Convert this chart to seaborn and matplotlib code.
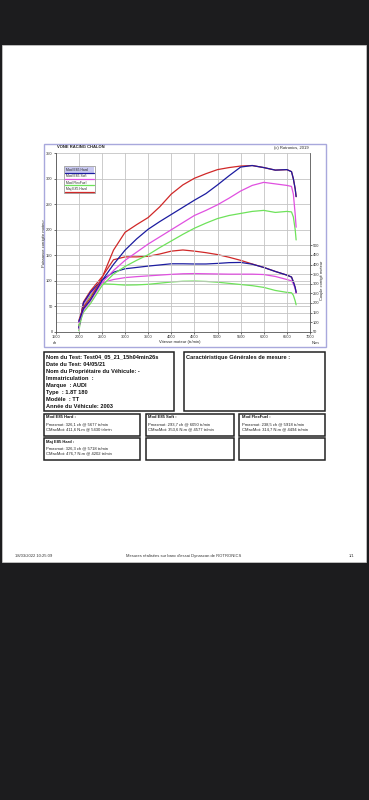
import matplotlib
matplotlib.use("Agg")
import matplotlib.pyplot as plt
import seaborn as sns
import pandas as pd
from matplotlib.patches import Rectangle
from matplotlib.lines import Line2D

# ---------------- data ----------------
rpm = [2000, 2100, 2250, 2500, 2750, 3000, 3250, 3500, 3750, 4000, 4250, 4500,
       4750, 5000, 5250, 5500, 5750, 6000, 6250, 6500, 6600, 6640, 6680, 6700]

series_names = ["Mod E85 Hard", "Mod E85 Soft", "Mod FlexFuel", "Maj E85 Hard"]
series_colors = ["#1c1ca0", "#e050e0", "#6ee25a", "#d02828"]

power_mod_e85_hard = [20, 45, 62, 100, 132, 160, 182, 201, 216, 230, 244, 258,
                      271, 288, 306, 323, 326, 322, 317, 318, 314, 300, 280, 265]
power_mod_e85_soft = [18, 42, 60, 96, 120, 140, 156, 172, 186, 200, 214, 228,
                      238, 249, 262, 276, 287, 293, 290, 287, 285, 270, 230, 205]
power_mod_flexfuel = [12, 38, 55, 90, 113, 128, 140, 151, 165, 178, 191, 203,
                      213, 222, 228, 232, 236, 238, 234, 236, 235, 225, 200, 180]
power_maj_e85_hard = [22, 48, 66, 105, 160, 195, 210, 224, 245, 270, 288, 301,
                      310, 318, 322, 325, 326, 322, 317, 318, 314, 300, 280, 265]

torque_mod_e85_hard = [70, 200, 255, 320, 360, 378, 385, 392, 398, 404, 404, 403,
                       403, 406, 410, 411, 402, 385, 364, 345, 335, 310, 280, 255]
torque_mod_e85_soft = [65, 190, 250, 305, 322, 332, 337, 341, 345, 349, 352, 353,
                       352, 351, 350, 350, 350, 348, 338, 322, 315, 300, 275, 250]
torque_mod_flexfuel = [55, 180, 240, 300, 297, 293, 294, 297, 303, 309, 313, 314,
                       312, 308, 302, 296, 290, 281, 265, 255, 253, 240, 210, 190]
torque_maj_e85_hard = [75, 205, 262, 335, 425, 440, 440, 443, 455, 470, 476, 470,
                       462, 452, 438, 422, 403, 385, 364, 345, 335, 310, 280, 255]

x_ticks = [1500, 2000, 2500, 3000, 3500, 4000, 4500, 5000, 5500, 6000, 6500, 7000]
power_ticks = [0, 50, 100, 150, 200, 250, 300, 350]
torque_ticks = [50, 100, 150, 200, 250, 300, 350, 400, 450, 500]

chart_title = "VONE RACING CHALON"
chart_copyright = "(c) Rotronics, 2019"

info_lines = ["Nom du Test: Test04_05_21_15h04min26s",
              "Date du Test: 04/05/21",
              "Nom du Propriétaire du Véhicule: -",
              "Immatriculation  :",
              "Marque  : AUDI",
              "Type  : 1.8T 180",
              "Modèle  : TT",
              "Année du Véhicule: 2003"]
general_title = "Caractéristique Générales de mesure :"

result_titles = ["Mod E85 Hard :", "Mod E85 Soft :", "Mod FlexFuel :", "Maj E85 Hard :"]
result_pmax = ["Pmaxmot: 326,1 ch @ 5677 tr/min", "Pmaxmot: 293,7 ch @ 6050 tr/min",
               "Pmaxmot: 238,5 ch @ 5918 tr/min", "Pmaxmot: 326,3 ch @ 5718 tr/min"]
result_cmax = ["CMaxMot: 411,6 N.m @ 5430 tr/min", "CMaxMot: 353,6 N.m @ 4577 tr/min",
               "CMaxMot: 314,7 N.m @ 4494 tr/min", "CMaxMot: 476,7 N.m @ 4202 tr/min"]

footer_left = "18/03/2022 10:25:09"
footer_mid = "Mesures réalisées sur banc d'essai Dynascan de ROTRONICS"
footer_right = "1/1"

# ---------------- build tables ----------------
power_vals = [power_mod_e85_hard, power_mod_e85_soft, power_mod_flexfuel, power_maj_e85_hard]
torque_vals = [torque_mod_e85_hard, torque_mod_e85_soft, torque_mod_flexfuel, torque_maj_e85_hard]
rows_p, rows_t = [], []
for name, pv, tv in zip(series_names, power_vals, torque_vals):
    for r, p, t in zip(rpm, pv, tv):
        rows_p.append({"rpm": r, "val": p, "serie": name})
        rows_t.append({"rpm": r, "val": t, "serie": name})
df_p = pd.DataFrame(rows_p)
df_t = pd.DataFrame(rows_t)
palette = dict(zip(series_names, series_colors))

# ---------------- figure ----------------
sns.set_style("white")
plt.rcParams["font.family"] = ["Liberation Sans", "DejaVu Sans"]

W, H = 369, 800
fig = plt.figure(figsize=(W / 100, H / 100), dpi=100, facecolor="#1c1c1e")

def fx(x):
    return x / W

def fy(y):
    return 1 - y / H

def rect(x0, y0, x1, y1, **kw):
    fig.patches.append(Rectangle((fx(x0), fy(y1)), fx(x1) - fx(x0), fy(y0) - fy(y1),
                                 transform=fig.transFigure, **kw))

# page
rect(2, 45, 366, 562, facecolor="white", edgecolor="#d0d0d0", lw=0.5, zorder=0)
# chart frame
rect(43.5, 144, 326, 347.5, facecolor="white", edgecolor="#a8a8dc", lw=1.0, zorder=0.5)

ax_l, ax_r, ax_t, ax_b = 55.7, 310, 153.3, 331.7
ax2 = fig.add_axes([fx(ax_l), fy(ax_b), fx(ax_r) - fx(ax_l), fy(ax_t) - fy(ax_b)])
ax = fig.add_axes([fx(ax_l), fy(ax_b), fx(ax_r) - fx(ax_l), fy(ax_t) - fy(ax_b)], sharex=ax2)
ax.set_zorder(3)
ax.patch.set_visible(False)
ax2.set_zorder(2)

# torque on ax2 (right axis)
sns.lineplot(data=df_t, x="rpm", y="val", hue="serie", palette=palette,
             hue_order=series_names[::-1], ax=ax2, lw=0.9, legend=False)
ax2.set_ylim(50, 980)
ax2.yaxis.tick_right()
ax2.yaxis.set_label_position("right")
ax2.set_yticks(torque_ticks)
ax2.grid(axis="y", color="#c4c4c4", lw=0.6)
ax2.set_axisbelow(True)

# power on ax (left axis)
sns.lineplot(data=df_p, x="rpm", y="val", hue="serie", palette=palette,
             hue_order=series_names[::-1], ax=ax, lw=0.9, legend=False)
ax.set_xlim(1500, 7000)
ax.set_ylim(0, 350)
ax.set_xticks(x_ticks)
ax.set_yticks(power_ticks)
ax.grid(True, color="#c4c4c4", lw=0.6)
ax.set_axisbelow(True)

for a in (ax, ax2):
    a.set_xlabel("")
    a.set_ylabel("")
    for s in a.spines.values():
        s.set_visible(False)
ax.spines["left"].set_visible(True)
ax.spines["bottom"].set_visible(True)
ax.spines["left"].set_color("#555555")
ax.spines["bottom"].set_color("#555555")
ax.spines["left"].set_linewidth(0.6)
ax.spines["bottom"].set_linewidth(0.6)
ax2.spines["right"].set_visible(True)
ax2.spines["right"].set_color("#555555")
ax2.spines["right"].set_linewidth(0.6)

ax.tick_params(axis="y", labelsize=2.9, length=1.6, width=0.5, pad=0.6,
               colors="#333333", left=True)
ax.tick_params(axis="x", labelsize=2.9, length=1.6, width=0.5, pad=1.0,
               colors="#333333", bottom=True)
ax2.tick_params(axis="y", labelsize=2.9, length=1.6, width=0.5, pad=0.6,
                colors="#333333", right=True, left=False, labelleft=False, labelright=True)
ax2.tick_params(axis="x", bottom=False, labelbottom=False)

tk = dict(transform=fig.transFigure, color="#222222")
fig.text(fx(57), fy(147.5), chart_title, fontsize=3.0, fontweight="bold", va="center", ha="left", **tk)
fig.text(fx(309), fy(147.5), chart_copyright, fontsize=3.0, va="center", ha="right", **tk)
fig.text(fx(44.3), fy(243), "Puissance corrigée moteur", fontsize=2.9, rotation=90,
         va="center", ha="center", **tk)
fig.text(fx(322.5), fy(280), "Couple corrigé moteur", fontsize=2.9, rotation=90,
         va="center", ha="center", **tk)
fig.text(fx(55), fy(342.5), "ch", fontsize=3.0, va="center", ha="center", **tk)
fig.text(fx(315), fy(342.5), "N.m", fontsize=3.0, va="center", ha="center", **tk)
fig.text(fx(180), fy(342.5), "Vitesse moteur (tr/min)", fontsize=3.0, va="center", ha="center", **tk)

# legend box
rect(63.5, 166, 95, 193, facecolor="white", edgecolor="#888888", lw=0.5, zorder=4)
rect(64.5, 167.5, 94, 173, facecolor="#c8c8f0", edgecolor="none", zorder=4)
for i, (name, col) in enumerate(zip(series_names, series_colors)):
    yy = 170 + i * 6.3
    fig.text(fx(65.5), fy(yy), name, fontsize=2.4, va="center", ha="left",
             transform=fig.transFigure, color="#222222", zorder=5)
    fig.lines.append(Line2D([fx(65), fx(93.5)], [fy(yy + 2.6), fy(yy + 2.6)],
                            transform=fig.transFigure, color=col, lw=0.9, zorder=5))

# info boxes
box_kw = dict(facecolor="white", edgecolor="#222222", lw=1.1, zorder=1)
rect(43.5, 351.5, 173.5, 410.8, **box_kw)
rect(183.5, 351.5, 325, 410.8, **box_kw)
for i, line in enumerate(info_lines):
    fig.text(fx(46), fy(357.2 + i * 7.05), line, fontsize=4.05, fontweight="bold",
             va="center", ha="left", transform=fig.transFigure, color="#111111")
fig.text(fx(186), fy(357.2), general_title, fontsize=4.05, fontweight="bold",
         va="center", ha="left", transform=fig.transFigure, color="#111111")

cols = [(43.5, 140), (146, 234.3), (239.3, 325)]
rows = [(414, 436), (438.3, 459.5)]
for r in rows:
    for c in cols:
        rect(c[0], r[0], c[1], r[1], **box_kw)
slots = [(0, 0), (0, 1), (0, 2), (1, 0)]
for (ri, ci), t, p, cm in zip(slots, result_titles, result_pmax, result_cmax):
    x0 = cols[ci][0] + 2.5
    y0 = rows[ri][0]
    fig.text(fx(x0), fy(y0 + 3.5), t, fontsize=3.0, fontweight="bold", va="center", ha="left",
             transform=fig.transFigure, color="#111111")
    fig.text(fx(x0), fy(y0 + 10.2), p, fontsize=3.0, va="center", ha="left",
             transform=fig.transFigure, color="#222222")
    fig.text(fx(x0), fy(y0 + 15.2), cm, fontsize=3.0, va="center", ha="left",
             transform=fig.transFigure, color="#222222")

# footer
fig.text(fx(15), fy(556), footer_left, fontsize=3.0, va="center", ha="left",
         transform=fig.transFigure, color="#333333")
fig.text(fx(184), fy(556), footer_mid, fontsize=3.0, va="center", ha="center",
         transform=fig.transFigure, color="#333333")
fig.text(fx(352), fy(556), footer_right, fontsize=3.0, va="center", ha="center",
         transform=fig.transFigure, color="#333333")

fig.savefig("out.png", dpi=100, facecolor=fig.get_facecolor())
